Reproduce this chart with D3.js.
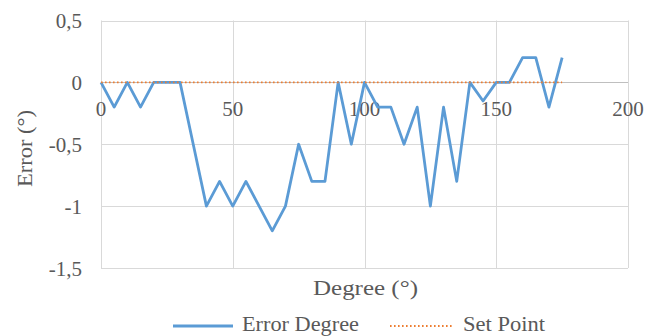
<!DOCTYPE html>
<html>
<head>
<meta charset="utf-8">
<script src="https://cdn.jsdelivr.net/npm/d3@7"></script>
<style>
  html, body { margin: 0; padding: 0; background: #fff; }
  svg { display: block; }
  svg text { fill: #595959; }
</style>
</head>
<body>
<svg id="chart" width="658" height="336"></svg>
<script>
// Measured angle (degrees) and the tracking error at each step
const degrees = [0, 5, 10, 15, 20, 25, 30, 35, 40, 45, 50, 55, 60, 65, 70, 75, 80, 85,
                 90, 95, 100, 105, 110, 115, 120, 125, 130, 135, 140, 145, 150, 155, 160, 165, 170, 175];
const errorDegree = [0, -0.2, 0, -0.2, 0, 0, 0, -0.5, -1, -0.8, -1, -0.8, -1, -1.2, -1, -0.5, -0.8, -0.8,
                     0, -0.5, 0, -0.2, -0.2, -0.5, -0.2, -1, -0.2, -0.8, 0, -0.15, 0, 0, 0.2, 0.2, -0.2, 0.2];
const setPoint = [0, 0, 0, 0, 0, 0, 0, 0, 0, 0, 0, 0, 0, 0, 0, 0, 0, 0,
                  0, 0, 0, 0, 0, 0, 0, 0, 0, 0, 0, 0, 0, 0, 0, 0, 0, 0];
const xTicks = [0, 50, 100, 150, 200];
const yTicks = [0.5, 0, -0.5, -1, -1.5];
const seriesNames = ["Error Degree", "Set Point"];

const serif = "Liberation Serif";
const svg = d3.select("#chart").style("font-family", serif);
const plotLeft = 101, plotRight = 628, plotTop = 20.5, plotBottom = 268;

const x = d3.scaleLinear().domain([0, 200]).range([plotLeft, plotRight]);
const y = d3.scaleLinear().domain([-1.5, 0.5]).range([plotBottom, plotTop]);
const fmt = v => String(v).replace(".", ",");

// Gridlines
const grid = svg.append("g").attr("stroke", "#d9d9d9").attr("stroke-width", 1);
grid.selectAll("line.h").data(yTicks).join("line")
  .attr("x1", plotLeft).attr("x2", plotRight)
  .attr("y1", d => Math.round(y(d)) + 0.5).attr("y2", d => Math.round(y(d)) + 0.5);
grid.selectAll("line.v").data(xTicks).join("line")
  .attr("y1", plotTop).attr("y2", plotBottom)
  .attr("x1", d => Math.round(x(d)) + 0.5).attr("x2", d => Math.round(x(d)) + 0.5);

// Horizontal axis crossing at zero
svg.append("line")
  .attr("x1", plotLeft).attr("x2", plotRight)
  .attr("y1", Math.round(y(0)) + 0.5).attr("y2", Math.round(y(0)) + 0.5)
  .attr("stroke", "#bfbfbf").attr("stroke-width", 1);

// Y tick labels
svg.append("g").selectAll("text").data(yTicks).join("text")
  .attr("x", 82).attr("y", d => y(d) + 7.5)
  .attr("text-anchor", "end").attr("font-size", 21)
  .style("font-family", serif)
  .text(fmt);

// X tick labels sitting just below the zero line
svg.append("g").selectAll("text").data(xTicks).join("text")
  .attr("x", d => x(d)).attr("y", y(0) + 34)
  .attr("text-anchor", "middle").attr("font-size", 21)
  .style("font-family", serif)
  .text(d => d);

// Series
const line = d3.line().x((d, i) => x(degrees[i])).y(d => y(d));

svg.append("path").datum(errorDegree)
  .attr("d", line)
  .attr("fill", "none").attr("stroke", "#5b9bd5")
  .attr("stroke-width", 2.8).attr("stroke-linejoin", "round");

svg.append("path").datum(setPoint)
  .attr("d", line)
  .attr("fill", "none").attr("stroke", "#ed7d31")
  .attr("stroke-width", 1.8).attr("stroke-dasharray", "1.6 2.4");

// Axis titles
svg.append("text")
  .attr("x", 313).attr("y", 295)
  .attr("font-size", 21).style("font-family", serif)
  .attr("textLength", 105).attr("lengthAdjust", "spacingAndGlyphs")
  .text("Degree (°)");

svg.append("text")
  .attr("transform", "translate(31.5,187) rotate(-90)")
  .attr("font-size", 21).style("font-family", serif)
  .attr("textLength", 77).attr("lengthAdjust", "spacingAndGlyphs")
  .text("Error (°)");

// Legend
const legend = svg.append("g");
legend.append("line")
  .attr("x1", 173).attr("x2", 233).attr("y1", 326).attr("y2", 326)
  .attr("stroke", "#5b9bd5").attr("stroke-width", 2.8);
legend.append("text")
  .attr("x", 242).attr("y", 331).attr("font-size", 20).style("font-family", serif)
  .attr("textLength", 117).attr("lengthAdjust", "spacingAndGlyphs")
  .text(seriesNames[0]);
legend.append("line")
  .attr("x1", 390).attr("x2", 452).attr("y1", 326).attr("y2", 326)
  .attr("stroke", "#ed7d31").attr("stroke-width", 1.8).attr("stroke-dasharray", "1.6 2.4");
legend.append("text")
  .attr("x", 463).attr("y", 331).attr("font-size", 20).style("font-family", serif)
  .attr("textLength", 82).attr("lengthAdjust", "spacingAndGlyphs")
  .text(seriesNames[1]);
</script>
</body>
</html>
